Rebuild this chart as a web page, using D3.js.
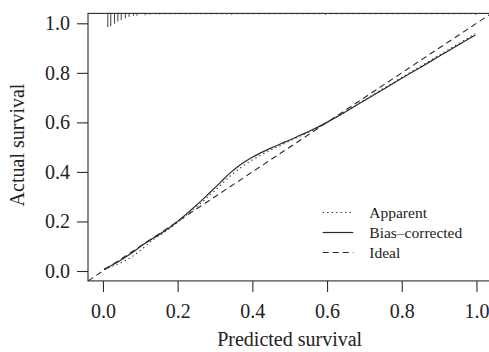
<!DOCTYPE html>
<html>
<head>
<meta charset="utf-8">
<script src="https://cdn.jsdelivr.net/npm/d3@7"></script>
<style>
  body { margin: 0; background: #fff; }
  svg { display: block; }
  text { font-family: "Liberation Serif", "Times New Roman", serif; fill: #222; }
</style>
</head>
<body>
<script>
const width = 489;
const height = 352;

// Calibration curves (predicted survival -> actual survival)
const biasX = [0.003, 0.03, 0.055, 0.08, 0.109, 0.135, 0.162, 0.198, 0.234, 0.26, 0.283, 0.314,
  0.34, 0.368, 0.395, 0.421, 0.448, 0.475, 0.5, 0.528, 0.555, 0.582, 0.608, 0.65, 0.7, 0.75,
  0.8, 0.85, 0.9, 0.95, 0.997];
const biasY = [0.008, 0.028, 0.05, 0.076, 0.108, 0.133, 0.158, 0.198, 0.244, 0.279, 0.312, 0.357,
  0.395, 0.429, 0.455, 0.476, 0.495, 0.513, 0.529, 0.548, 0.566, 0.586, 0.607, 0.643, 0.688, 0.733,
  0.778, 0.822, 0.867, 0.911, 0.953];

const apparentX = [0.003, 0.03, 0.055, 0.08, 0.109, 0.135, 0.162, 0.198, 0.234, 0.26, 0.283, 0.314,
  0.34, 0.368, 0.395, 0.421, 0.448, 0.475, 0.5, 0.528, 0.555, 0.582, 0.608, 0.65, 0.7, 0.75,
  0.8, 0.85, 0.9, 0.95, 0.997];
const apparentY = [0.005, 0.022, 0.038, 0.06, 0.094, 0.127, 0.154, 0.194, 0.239, 0.271, 0.302, 0.345,
  0.382, 0.416, 0.444, 0.466, 0.487, 0.507, 0.525, 0.545, 0.564, 0.585, 0.607, 0.644, 0.69, 0.736,
  0.781, 0.826, 0.871, 0.916, 0.958];

// Spike histogram of predicted values along the top
const riskX = [0.013, 0.021, 0.031, 0.04, 0.049, 0.06, 0.07, 0.082, 0.091, 0.113,
  0.126, 0.14, 0.152, 0.166, 0.18, 0.193, 0.207, 0.22, 0.234, 0.248, 0.262, 0.276,
  0.29, 0.304, 0.318, 0.33, 0.345, 0.36, 0.374, 0.388, 0.402, 0.418, 0.432, 0.446,
  0.46, 0.474, 0.49, 0.505, 0.52, 0.536, 0.55, 0.565, 0.58, 0.596, 0.61, 0.625, 0.64,
  0.655, 0.67, 0.686, 0.7, 0.716, 0.73, 0.745, 0.76, 0.775, 0.79, 0.805, 0.82, 0.835,
  0.85, 0.865, 0.88, 0.895, 0.91, 0.925, 0.94, 0.955, 0.97, 0.985, 0.998];
const riskN = [13.7, 13, 10.3, 8.3, 6.7, 5, 3.5, 2.5, 2.3, 1.8,
  1.2, 1, 1.2, 1, 1, 1, 1, 1, 1, 1, 1, 1,
  1, 1, 1, 1, 1.5, 1, 1, 1, 1, 1, 1, 1,
  1, 1, 1, 1, 1, 1, 1, 1, 1, 1.5, 1, 1, 1,
  1, 1, 1, 1, 1, 1, 1, 1, 1, 1, 1, 1, 1,
  1, 1, 1, 1, 1, 1, 1, 1, 1, 1, 1.5];

const ticks = [0, 0.2, 0.4, 0.6, 0.8, 1.0];

const legendLabels = ["Apparent", "Bias\u2013corrected", "Ideal"];
const legendDash = ["1.3,3.2", null, "6,4"];

const margin = {top: 13.4, left: 88};
const plotW = 403.4, plotH = 267.5;

const svg = d3.select("body").append("svg")
  .attr("width", width)
  .attr("height", height);

const g = svg.append("g").attr("transform", `translate(${margin.left},${margin.top})`);

const x = d3.scaleLinear().domain([-0.04, 1.04]).range([0, plotW]);
const y = d3.scaleLinear().domain([-0.04, 1.04]).range([plotH, 0]);
const spike = d3.scaleLinear().domain([0, 14]).range([0, 14]);

const ink = "#2b2b2b";

// axes
const xAxis = g.append("g")
  .attr("transform", `translate(0,${plotH})`)
  .call(d3.axisBottom(x).tickValues(ticks).tickFormat(d3.format(".1f")).tickSize(11).tickPadding(12));
const yAxis = g.append("g")
  .call(d3.axisLeft(y).tickValues(ticks).tickFormat(d3.format(".1f")).tickSize(11).tickPadding(7));
[xAxis, yAxis].forEach(a => {
  a.select(".domain").remove();
  a.selectAll("line").attr("stroke", ink).attr("stroke-width", 1.1);
  a.selectAll("text").attr("font-size", 20).attr("fill", "#222")
    .attr("font-family", "'Liberation Serif', serif");
});

// frame
g.append("rect")
  .attr("width", plotW).attr("height", plotH)
  .attr("fill", "none").attr("stroke", ink).attr("stroke-width", 1.1);

// spike histogram
g.selectAll(".spike")
  .data(riskX)
  .enter()
  .append("line")
  .attr("class", "spike")
  .attr("x1", d => x(d)).attr("x2", d => x(d))
  .attr("y1", 0)
  .attr("y2", (d, i) => spike(riskN[i]))
  .attr("stroke", ink)
  .attr("stroke-width", 0.9);

// ideal line
g.append("line")
  .attr("x1", x(-0.04)).attr("y1", y(-0.04))
  .attr("x2", x(1.04)).attr("y2", y(1.04))
  .attr("stroke", ink).attr("stroke-width", 1.1)
  .attr("stroke-dasharray", "6,4");

const line = d3.line().curve(d3.curveMonotoneX);

g.append("path")
  .attr("d", line(apparentX.map((d, i) => [x(d), y(apparentY[i])])))
  .attr("fill", "none").attr("stroke", ink).attr("stroke-width", 1.1)
  .attr("stroke-dasharray", "1.3,3.2");

g.append("path")
  .attr("d", line(biasX.map((d, i) => [x(d), y(biasY[i])])))
  .attr("fill", "none").attr("stroke", ink).attr("stroke-width", 1.2);

// legend
const legend = svg.append("g").attr("transform", "translate(322.7,212.5)");
legendLabels.forEach((lab, i) => {
  const row = legend.append("g").attr("transform", `translate(0,${i * 20})`);
  row.append("line")
    .attr("x1", 0).attr("x2", 30.6)
    .attr("stroke", ink).attr("stroke-width", 1.2)
    .attr("stroke-dasharray", legendDash[i]);
  row.append("text")
    .attr("x", 46.6).attr("dy", "0.33em")
    .attr("font-size", 15.5)
    .text(lab);
});

// axis titles
svg.append("text")
  .attr("x", margin.left + x(0.5)).attr("y", 346)
  .attr("text-anchor", "middle")
  .attr("font-size", 20)
  .text("Predicted survival");

svg.append("text")
  .attr("transform", "translate(24,145) rotate(-90)")
  .attr("text-anchor", "middle")
  .attr("font-size", 20)
  .text("Actual survival");
</script>
</body>
</html>
